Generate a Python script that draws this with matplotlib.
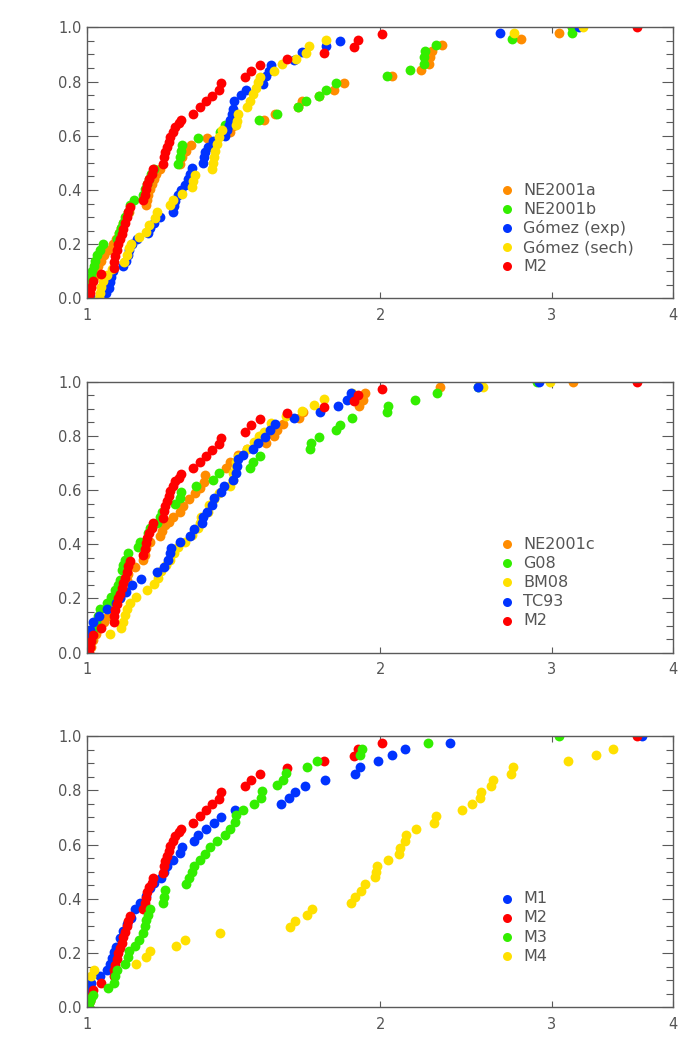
import numpy as np
import matplotlib
matplotlib.use("Agg")
import matplotlib.pyplot as plt
from matplotlib.ticker import NullLocator, FixedLocator

# ---------------- data (x = ratio, y = cumulative fraction) ----------------
m2_x = [1.003, 1.006, 1.010, 1.013, 1.034, 1.064, 1.065, 1.068, 1.072, 1.076,
        1.080, 1.085, 1.089, 1.093, 1.098, 1.102, 1.106, 1.142, 1.146, 1.149,
        1.153, 1.158, 1.165, 1.169, 1.197, 1.199, 1.202, 1.207, 1.212, 1.216,
        1.224, 1.231, 1.241, 1.247, 1.285, 1.306, 1.324, 1.342, 1.367, 1.373,
        1.453, 1.472, 1.505, 1.604, 1.749, 1.878, 1.897, 2.007, 3.67]
m2_y = [0.000, 0.022, 0.043, 0.065, 0.090, 0.114, 0.136, 0.157, 0.179, 0.200,
        0.218, 0.237, 0.258, 0.277, 0.299, 0.319, 0.338, 0.362, 0.383, 0.403,
        0.424, 0.442, 0.460, 0.477, 0.497, 0.521, 0.540, 0.558, 0.577, 0.595,
        0.613, 0.632, 0.646, 0.659, 0.681, 0.705, 0.727, 0.748, 0.769, 0.793,
        0.815, 0.840, 0.862, 0.883, 0.907, 0.928, 0.952, 0.974, 1.000]

# panel 1
ne2001a_x = [1.004, 1.008, 1.012, 1.016, 1.020, 1.026, 1.032, 1.040, 1.051, 1.062,
             1.070, 1.077, 1.083, 1.089, 1.096, 1.103, 1.150, 1.152, 1.155, 1.160,
             1.165, 1.170, 1.176, 1.188, 1.245, 1.252, 1.262, 1.277, 1.327, 1.400,
             1.413, 1.519, 1.560, 1.645, 1.660, 1.730, 1.791, 1.835, 2.056, 2.202,
             2.242, 2.251, 2.260, 2.315, 2.791, 3.050, 3.150]
ne2001a_y = [0.020, 0.040, 0.060, 0.080, 0.100, 0.120, 0.140, 0.160, 0.180, 0.200,
             0.220, 0.240, 0.260, 0.280, 0.300, 0.320, 0.344, 0.362, 0.383, 0.403,
             0.424, 0.442, 0.460, 0.477, 0.497, 0.521, 0.545, 0.567, 0.590, 0.613,
             0.636, 0.659, 0.681, 0.705, 0.727, 0.748, 0.770, 0.793, 0.821, 0.843,
             0.865, 0.889, 0.911, 0.933, 0.956, 0.979, 1.000]

ne2001b_x = [1.001, 1.002, 1.004, 1.006, 1.008, 1.011, 1.015, 1.019, 1.024, 1.030,
             1.037, 1.072, 1.077, 1.082, 1.088, 1.094, 1.100, 1.107, 1.117, 1.140,
             1.146, 1.152, 1.158, 1.163, 1.170, 1.240, 1.245, 1.248, 1.250, 1.300,
             1.370, 1.385, 1.500, 1.565, 1.645, 1.676, 1.730, 1.757, 1.800, 2.032,
             2.144, 2.216, 2.220, 2.225, 2.284, 2.732, 3.149, 3.150]
ne2001b_y = [0.000, 0.020, 0.040, 0.060, 0.080, 0.100, 0.120, 0.140, 0.160, 0.180,
             0.200, 0.220, 0.240, 0.260, 0.280, 0.300, 0.320, 0.344, 0.365, 0.383,
             0.403, 0.424, 0.442, 0.460, 0.477, 0.497, 0.521, 0.545, 0.567, 0.590,
             0.613, 0.638, 0.660, 0.681, 0.705, 0.727, 0.748, 0.770, 0.793, 0.821,
             0.843, 0.865, 0.889, 0.911, 0.933, 0.956, 0.979, 1.000]

gomez_exp_x = [1.010, 1.045, 1.052, 1.055, 1.058, 1.062, 1.088, 1.096, 1.100, 1.105,
               1.112, 1.125, 1.155, 1.160, 1.170, 1.188, 1.224, 1.228, 1.232, 1.240,
               1.248, 1.260, 1.268, 1.275, 1.282, 1.314, 1.318, 1.322, 1.332, 1.345,
               1.385, 1.393, 1.398, 1.402, 1.407, 1.410, 1.415, 1.437, 1.456, 1.515,
               1.525, 1.537, 1.544, 1.629, 1.660, 1.757, 1.820, 2.657, 3.200]
gomez_exp_y = [0.000, 0.020, 0.040, 0.060, 0.080, 0.100, 0.120, 0.140, 0.160, 0.180,
               0.200, 0.220, 0.240, 0.260, 0.280, 0.300, 0.320, 0.340, 0.360, 0.380,
               0.400, 0.420, 0.440, 0.460, 0.480, 0.500, 0.520, 0.540, 0.560, 0.580,
               0.600, 0.620, 0.640, 0.660, 0.680, 0.700, 0.730, 0.750, 0.770, 0.790,
               0.820, 0.840, 0.860, 0.880, 0.910, 0.930, 0.950, 0.980, 1.000]

gomez_sech_x = [1.028, 1.030, 1.034, 1.038, 1.047, 1.060, 1.090, 1.098, 1.105, 1.110,
                1.130, 1.149, 1.158, 1.175, 1.178, 1.216, 1.225, 1.250, 1.280, 1.285,
                1.290, 1.342, 1.345, 1.348, 1.352, 1.360, 1.367, 1.375, 1.420, 1.425,
                1.428, 1.458, 1.470, 1.480, 1.490, 1.497, 1.503, 1.556, 1.584, 1.640,
                1.676, 1.690, 1.757, 2.747, 3.230]
gomez_sech_y = [0.000, 0.022, 0.044, 0.066, 0.087, 0.110, 0.136, 0.160, 0.185, 0.200,
                0.228, 0.246, 0.270, 0.295, 0.320, 0.344, 0.365, 0.387, 0.410, 0.432,
                0.454, 0.478, 0.500, 0.520, 0.545, 0.570, 0.595, 0.620, 0.638, 0.656,
                0.680, 0.705, 0.730, 0.754, 0.778, 0.800, 0.818, 0.840, 0.864, 0.885,
                0.907, 0.931, 0.952, 0.979, 1.000]

# panel 2
ne2001c_x = [1.003, 1.008, 1.013, 1.020, 1.030, 1.040, 1.050, 1.060, 1.070, 1.080,
             1.090, 1.095, 1.098, 1.102, 1.120, 1.142, 1.146, 1.150, 1.160, 1.188,
             1.192, 1.202, 1.212, 1.226, 1.245, 1.253, 1.271, 1.290, 1.305, 1.317,
             1.322, 1.387, 1.403, 1.428, 1.460, 1.525, 1.555, 1.565, 1.590, 1.650,
             1.665, 1.900, 1.922, 1.930, 2.305, 3.156]
ne2001c_y = [0.000, 0.022, 0.045, 0.068, 0.090, 0.113, 0.135, 0.158, 0.180, 0.200,
             0.223, 0.245, 0.268, 0.290, 0.317, 0.342, 0.360, 0.385, 0.410, 0.432,
             0.450, 0.470, 0.483, 0.500, 0.520, 0.540, 0.566, 0.588, 0.606, 0.630,
             0.656, 0.680, 0.705, 0.730, 0.750, 0.775, 0.800, 0.820, 0.844, 0.865,
             0.886, 0.910, 0.932, 0.957, 0.978, 1.000]

g08_x = [1.002, 1.005, 1.008, 1.011, 1.015, 1.020, 1.025, 1.030, 1.047, 1.058,
         1.068, 1.075, 1.080, 1.085, 1.089, 1.093, 1.102, 1.128, 1.133, 1.155,
         1.160, 1.178, 1.188, 1.193, 1.231, 1.244, 1.247, 1.293, 1.346, 1.367,
         1.470, 1.480, 1.505, 1.692, 1.698, 1.732, 1.800, 1.820, 1.872, 2.030,
         2.035, 2.173, 2.287, 2.520, 2.900]
g08_y = [0.000, 0.022, 0.045, 0.068, 0.090, 0.113, 0.135, 0.160, 0.185, 0.205,
         0.230, 0.250, 0.268, 0.305, 0.323, 0.342, 0.367, 0.390, 0.410, 0.440,
         0.460, 0.477, 0.500, 0.520, 0.549, 0.570, 0.594, 0.615, 0.637, 0.662,
         0.680, 0.705, 0.726, 0.750, 0.775, 0.797, 0.820, 0.840, 0.865, 0.886,
         0.910, 0.932, 0.957, 0.978, 1.000]

bm08_x = [1.055, 1.084, 1.088, 1.093, 1.098, 1.107, 1.122, 1.152, 1.170, 1.183,
          1.190, 1.205, 1.215, 1.228, 1.240, 1.260, 1.280, 1.300, 1.305, 1.310,
          1.330, 1.335, 1.350, 1.364, 1.400, 1.410, 1.413, 1.420, 1.423, 1.428,
          1.460, 1.485, 1.500, 1.520, 1.545, 1.600, 1.660, 1.710, 1.750, 1.870,
          2.550, 2.986]
bm08_y = [0.069, 0.090, 0.114, 0.139, 0.160, 0.185, 0.204, 0.231, 0.253, 0.274,
          0.300, 0.323, 0.342, 0.367, 0.390, 0.410, 0.434, 0.459, 0.480, 0.500,
          0.520, 0.545, 0.567, 0.588, 0.613, 0.637, 0.662, 0.685, 0.705, 0.723,
          0.750, 0.778, 0.800, 0.815, 0.846, 0.871, 0.890, 0.914, 0.935, 0.957,
          0.978, 1.000]

tc93_x = [1.002, 1.003, 1.003, 1.006, 1.013, 1.029, 1.047, 1.070, 1.081, 1.097,
          1.111, 1.135, 1.180, 1.200, 1.210, 1.216, 1.218, 1.245, 1.275, 1.286,
          1.311, 1.316, 1.327, 1.343, 1.348, 1.373, 1.383, 1.410, 1.420, 1.425,
          1.430, 1.447, 1.480, 1.497, 1.524, 1.541, 1.558, 1.630, 1.735, 1.810,
          1.850, 1.865, 2.518, 2.910]
tc93_y = [0.000, 0.035, 0.060, 0.083, 0.114, 0.135, 0.160, 0.185, 0.200, 0.225,
          0.250, 0.272, 0.299, 0.317, 0.342, 0.367, 0.385, 0.410, 0.430, 0.455,
          0.477, 0.500, 0.520, 0.545, 0.570, 0.592, 0.615, 0.637, 0.662, 0.690,
          0.713, 0.730, 0.750, 0.775, 0.795, 0.820, 0.843, 0.865, 0.887, 0.910,
          0.932, 0.957, 0.978, 1.000]

# panel 3
m1_x = [1.002, 1.003, 1.003, 1.003, 1.010, 1.030, 1.047, 1.055, 1.060, 1.065,
        1.071, 1.080, 1.089, 1.098, 1.110, 1.120, 1.133, 1.150, 1.160, 1.170,
        1.190, 1.200, 1.207, 1.226, 1.245, 1.250, 1.286, 1.298, 1.325, 1.348,
        1.373, 1.418, 1.581, 1.612, 1.635, 1.675, 1.753, 1.886, 1.905, 1.990,
        2.054, 2.118, 2.357, 3.717]
m1_y = [0.000, 0.020, 0.040, 0.065, 0.090, 0.114, 0.136, 0.159, 0.181, 0.204,
        0.224, 0.255, 0.280, 0.308, 0.328, 0.362, 0.386, 0.410, 0.440, 0.457,
        0.475, 0.500, 0.522, 0.545, 0.570, 0.592, 0.614, 0.635, 0.657, 0.681,
        0.702, 0.727, 0.749, 0.773, 0.794, 0.816, 0.839, 0.861, 0.886, 0.908,
        0.931, 0.953, 0.975, 1.000]

m3_x = [1.003, 1.006, 1.008, 1.013, 1.051, 1.065, 1.068, 1.072, 1.094, 1.100,
        1.104, 1.120, 1.130, 1.140, 1.146, 1.150, 1.155, 1.160, 1.195, 1.200,
        1.202, 1.263, 1.272, 1.280, 1.286, 1.305, 1.320, 1.337, 1.360, 1.385,
        1.400, 1.417, 1.420, 1.447, 1.485, 1.510, 1.512, 1.568, 1.590, 1.600,
        1.680, 1.720, 1.905, 1.915, 2.239, 3.050]
m3_y = [0.000, 0.022, 0.035, 0.047, 0.071, 0.090, 0.114, 0.136, 0.159, 0.185,
        0.206, 0.227, 0.249, 0.273, 0.298, 0.322, 0.340, 0.364, 0.386, 0.408,
        0.433, 0.455, 0.475, 0.500, 0.520, 0.545, 0.567, 0.592, 0.614, 0.635,
        0.657, 0.684, 0.708, 0.727, 0.751, 0.773, 0.798, 0.819, 0.839, 0.864,
        0.886, 0.908, 0.931, 0.953, 0.975, 1.000]

m4_x = [1.008, 1.017, 1.122, 1.149, 1.160, 1.234, 1.260, 1.370, 1.616, 1.635,
        1.681, 1.701, 1.866, 1.886, 1.909, 1.930, 1.976, 1.980, 1.985, 2.037,
        2.089, 2.094, 2.122, 2.127, 2.178, 2.273, 2.280, 2.427, 2.485, 2.534,
        2.540, 2.600, 2.610, 2.728, 2.740, 3.117, 3.335, 3.467]
m4_y = [0.114, 0.138, 0.159, 0.185, 0.206, 0.227, 0.249, 0.273, 0.295, 0.319,
        0.341, 0.363, 0.386, 0.408, 0.430, 0.455, 0.479, 0.500, 0.522, 0.545,
        0.567, 0.589, 0.614, 0.637, 0.658, 0.681, 0.705, 0.727, 0.749, 0.772,
        0.794, 0.816, 0.839, 0.861, 0.886, 0.908, 0.931, 0.953]

x_ticks = [1, 2, 3, 4]
x_ticklabels = ["1", "2", "3", "4"]
y_ticks = [0.0, 0.2, 0.4, 0.6, 0.8, 1.0]
y_ticklabels = ["0.0", "0.2", "0.4", "0.6", "0.8", "1.0"]

# ---------------- styling ----------------
ORANGE = "#FF8C00"
GREEN = "#33EE00"
BLUE = "#0033FF"
YELLOW = "#FFE000"
RED = "#FF0000"
AXCOL = "#5a5a5a"
TXTCOL = "#555555"

panels = [
    # (draw order list, legend order list)
    [("NE2001a", ne2001a_x, ne2001a_y, ORANGE),
     ("NE2001b", ne2001b_x, ne2001b_y, GREEN),
     ("Gómez (exp)", gomez_exp_x, gomez_exp_y, BLUE),
     ("Gómez (sech)", gomez_sech_x, gomez_sech_y, YELLOW),
     ("M2", m2_x, m2_y, RED)],
    [("NE2001c", ne2001c_x, ne2001c_y, ORANGE),
     ("G08", g08_x, g08_y, GREEN),
     ("BM08", bm08_x, bm08_y, YELLOW),
     ("TC93", tc93_x, tc93_y, BLUE),
     ("M2", m2_x, m2_y, RED)],
    [("M1", m1_x, m1_y, BLUE),
     ("M2", m2_x, m2_y, RED),
     ("M3", m3_x, m3_y, GREEN),
     ("M4", m4_x, m4_y, YELLOW)],
]
draw_orders = [
    [0, 1, 2, 3, 4],
    [0, 1, 2, 3, 4],
    [3, 0, 1, 2],
]

fig = plt.figure(figsize=(7.0, 10.63), dpi=100)
plt.rcParams["font.family"] = ["DejaVu Sans"]

left, width, height = 0.1247, 0.8371, 0.2551
bottoms = [0.7192, 0.3860, 0.0524]

for series, order, bottom in zip(panels, draw_orders, bottoms):
    ax = fig.add_axes([left, bottom, width, height])
    for i in order:
        name, xs, ys, col = series[i]
        ax.scatter(xs, ys, s=50, color=col, linewidths=0, zorder=2 + i * 0.01)
    ax.set_xscale("log")
    ax.set_xlim(1, 4)
    ax.set_ylim(0, 1)
    ax.xaxis.set_major_locator(FixedLocator(x_ticks))
    ax.set_xticklabels(x_ticklabels)
    ax.xaxis.set_minor_locator(NullLocator())
    ax.set_yticks(y_ticks)
    ax.set_yticklabels(y_ticklabels)
    ax.yaxis.set_minor_locator(FixedLocator(np.arange(0.05, 1.0, 0.05)))
    ax.tick_params(axis="y", which="major", direction="in", length=8, width=0.8,
                   left=True, right=True, color=AXCOL, labelcolor=TXTCOL,
                   labelsize=10.5, pad=4)
    ax.tick_params(axis="y", which="minor", direction="in", length=5, width=0.8,
                   left=True, right=True, color=AXCOL)
    ax.tick_params(axis="x", which="major", direction="in", length=4, width=0.8,
                   top=True, bottom=True, color=AXCOL, labelcolor=TXTCOL,
                   labelsize=10.5, pad=7)
    for sp in ax.spines.values():
        sp.set_color(AXCOL)
        sp.set_linewidth(1.0)

    # legend (drawn manually in axes coordinates)
    y0, dy = 0.400, 0.0705
    for k, (name, xs, ys, col) in enumerate(series):
        yy = y0 - k * dy
        ax.scatter([0.7157], [yy], s=42, color=col, linewidths=0,
                   transform=ax.transAxes, clip_on=False, zorder=5)
        ax.text(0.744, yy, name, transform=ax.transAxes, ha="left",
                va="center", color=TXTCOL, fontsize=11.5)

fig.savefig("out.png", dpi=100)
